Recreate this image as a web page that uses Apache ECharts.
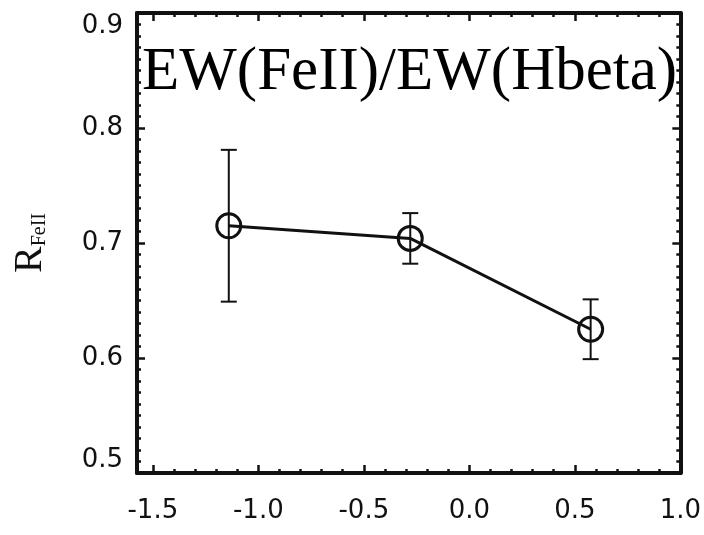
<!DOCTYPE html>
<html>
<head>
<meta charset="utf-8">
<script src="https://cdn.jsdelivr.net/npm/echarts@6/dist/echarts.min.js"></script>
<style>
  html, body { margin: 0; padding: 0; background: #fff; }
  #chart { width: 704px; height: 535px; }
</style>
</head>
<body>
<div id="chart"></div>
<script>
// Axis layout
const xRange = [-1.575, 1.0];
const xMajorTicks = [-1.5, -1.0, -0.5, 0.0, 0.5, 1.0];
const yRange = [0.5, 0.9];
const yStep = 0.1;

// Measured points: x position, R_FeII ratio and its 1-sigma error
const xValues = [-1.14, -0.28, 0.575];
const rFeII = [0.715, 0.704, 0.625];
const rFeIIErr = [0.066, 0.022, 0.026];

const titleText = 'EW(FeII)/EW(Hbeta)';

// Minor ticks every 0.1 between the labelled ticks
const xMinorTicks = [];
for (let k = -14; k <= 9; k++) {
  if (k % 5 !== 0) xMinorTicks.push(k / 10);
}

const points = xValues.map((x, i) => [x, rFeII[i]]);
const bars = xValues.map((x, i) => [x, rFeII[i] - rFeIIErr[i], rFeII[i] + rFeIIErr[i]]);

const ink = '#111';
const labelFont = { fontFamily: 'DejaVu Sans', fontSize: 26, color: ink };

function xAxisDef(position, ticks, len, withLine, withLabels) {
  return {
    type: 'value', position: position, min: xRange[0], max: xRange[1],
    axisLine: { show: withLine, onZero: false, lineStyle: { color: ink, width: 4 } },
    axisTick: { show: true, inside: true, length: len, customValues: ticks,
                lineStyle: { color: ink, width: 2.5 } },
    axisLabel: withLabels
      ? Object.assign({ show: true, margin: 25, customValues: ticks,
          formatter: v => v.toFixed(1) }, labelFont)
      : { show: false },
    splitLine: { show: false }
  };
}

function yAxisDef(position, withLabels) {
  const ax = {
    type: 'value', position: position, min: yRange[0], max: yRange[1], interval: yStep,
    axisLine: { show: true, onZero: false, lineStyle: { color: ink, width: 4 } },
    axisTick: { show: true, inside: true, length: 8, lineStyle: { color: ink, width: 2.5 } },
    minorTick: { show: true, splitNumber: 10, length: 4, lineStyle: { color: ink, width: 2.5 } },
    axisLabel: withLabels
      ? Object.assign({ show: true, margin: 14, formatter: v => v.toFixed(1),
          verticalAlignMinLabel: 'bottom', verticalAlignMaxLabel: 'top' }, labelFont)
      : { show: false },
    splitLine: { show: false },
    minorSplitLine: { show: false }
  };
  if (withLabels) {
    ax.name = '{r|R}{s|FeII}';
    ax.nameLocation = 'middle';
    ax.nameRotate = 90;
    ax.nameGap = 87;
    ax.nameTextStyle = {
      rich: {
        r: { fontFamily: 'Liberation Serif', fontSize: 40, color: ink },
        s: { fontFamily: 'Liberation Serif', fontSize: 20, color: ink,
             verticalAlign: 'bottom', padding: [14, 0, 0, 0] }
      }
    };
  }
  return ax;
}

const chart = echarts.init(document.getElementById('chart'), null, { renderer: 'canvas' });

chart.setOption({
  animation: false,
  backgroundColor: '#fff',
  grid: { left: 137, right: 22, top: 13, bottom: 62, containLabel: false },
  xAxis: [
    xAxisDef('bottom', xMajorTicks, 8, true, true),
    xAxisDef('bottom', xMinorTicks, 4, false, false),
    xAxisDef('top', xMajorTicks, 8, true, false),
    xAxisDef('top', xMinorTicks, 4, false, false)
  ],
  yAxis: [
    yAxisDef('left', true),
    yAxisDef('right', false)
  ],
  graphic: [{
    type: 'text', left: 142, top: 42, z: 10,
    style: { text: titleText, font: '61px "Liberation Serif"', fill: '#000' }
  }],
  series: [
    {
      type: 'custom',
      xAxisIndex: 0, yAxisIndex: 0,
      data: bars,
      encode: { x: 0, y: [1, 2] },
      z: 3,
      renderItem: function (params, api) {
        const x = api.value(0);
        const lo = api.coord([x, api.value(1)]);
        const hi = api.coord([x, api.value(2)]);
        const half = 8;
        const st = { stroke: ink, lineWidth: 2 };
        return {
          type: 'group',
          children: [
            { type: 'line', shape: { x1: lo[0], y1: lo[1], x2: hi[0], y2: hi[1] }, style: st },
            { type: 'line', shape: { x1: lo[0] - half, y1: lo[1], x2: lo[0] + half, y2: lo[1] }, style: st },
            { type: 'line', shape: { x1: hi[0] - half, y1: hi[1], x2: hi[0] + half, y2: hi[1] }, style: st }
          ]
        };
      }
    },
    {
      type: 'line',
      xAxisIndex: 0, yAxisIndex: 0,
      data: points,
      z: 4,
      symbol: 'circle',
      symbolSize: 24,
      lineStyle: { color: ink, width: 3 },
      itemStyle: { color: 'rgba(0,0,0,0)', borderColor: ink, borderWidth: 3 }
    }
  ]
});
</script>
</body>
</html>
